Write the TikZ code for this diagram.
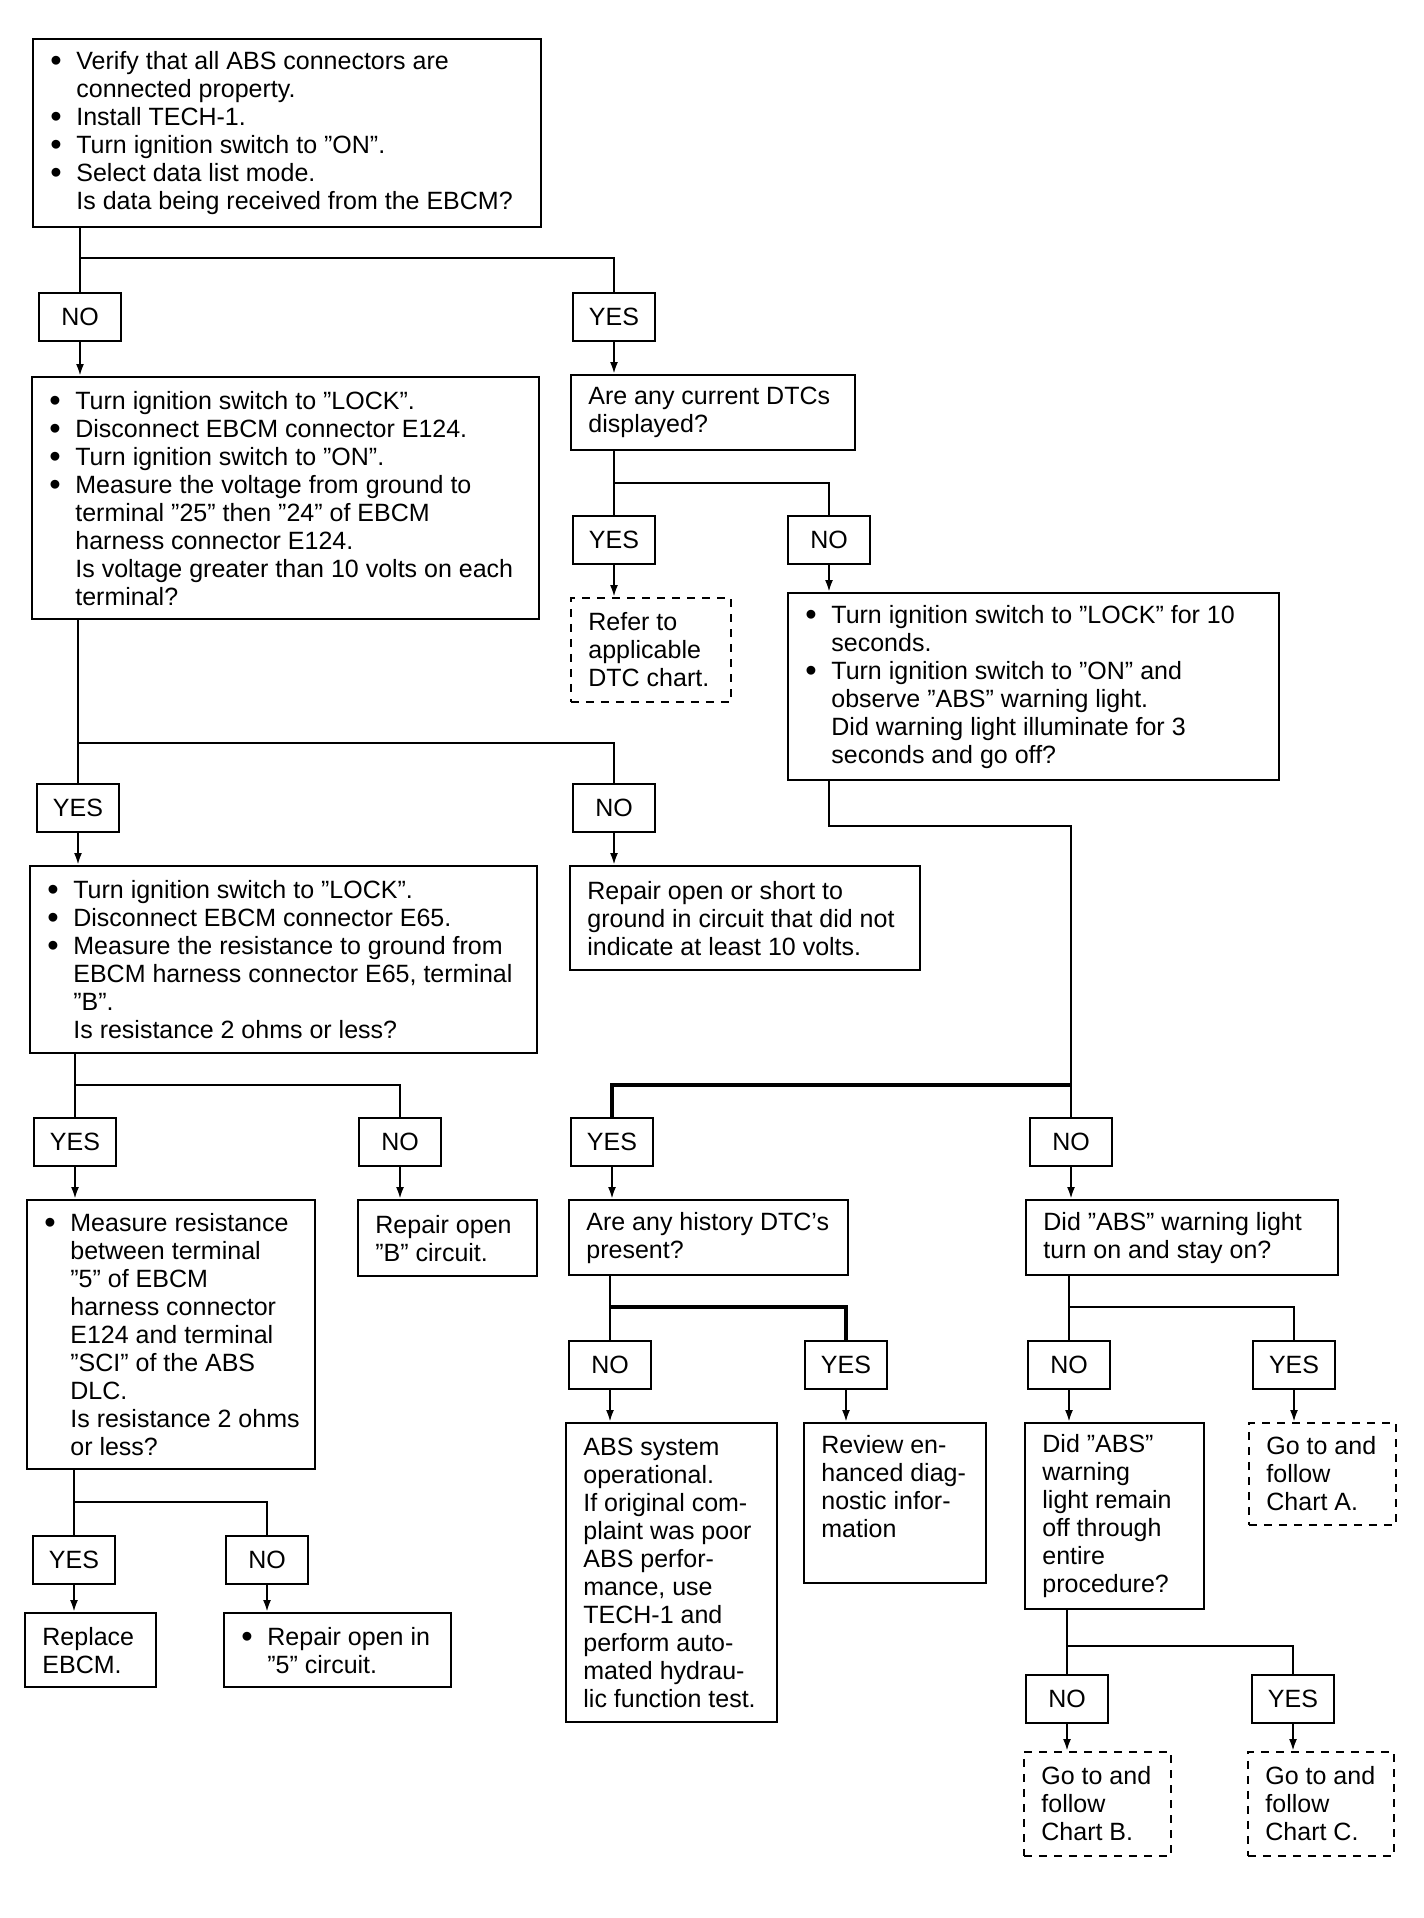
\documentclass[tikz,border=0pt]{standalone}
\usepackage{fontspec}
\usepackage{graphicx}
\setmainfont{Liberation Sans}
\usetikzlibrary{arrows.meta}
\newcommand{\bul}{\makebox[13pt][l]{\smash{\raisebox{-1.1pt}{\scalebox{1.3}{\textbullet}}}}}
\newcommand{\ind}{\hspace*{13pt}}
% [style] name x y W H text
\newcommand{\mybox}[7][box]{%
  \node[#1, minimum width=#5pt, minimum height=#6pt] (#2) at (#3,#4) {};
  \node[txt] (#2t) at ([xshift=9pt]#2.west) {#7};}
\begin{document}
\begin{tikzpicture}[x=0.5pt,y=-0.5pt,
  every node/.style={font=\fontsize{12.5}{14}\selectfont},
  box/.style={draw, line width=1.1pt, anchor=north west, inner sep=0pt},
  dbox/.style={box, line width=0.9pt, dash pattern=on 4pt off 3.5pt},
  txt/.style={anchor=west, align=left, inner sep=0pt},
  lab/.style={draw, line width=1.1pt, minimum width=41pt, minimum height=24pt, inner sep=0pt},
  conn/.style={line width=1.1pt},
  arr/.style={line width=1.1pt, -{Latex[length=6pt,width=4pt]}}
]
\fill[white] (0,0) rectangle (1424,1918);
\useasboundingbox (0,0) rectangle (1424,1918);

% ---- nodes ----
\mybox{b1}{32}{38}{254}{94}{\bul Verify that all ABS connectors are\\ \ind connected property.\\ \bul Install TECH-1.\\ \bul Turn ignition switch to "ON".\\ \bul Select data list mode.\\ \ind Is data being received from the EBCM?}
\node[lab] (no1) at (80,317) {NO};
\node[lab] (yes1) at (614,317) {YES};
\mybox{b2}{31}{376}{253.5}{121}{\bul Turn ignition switch to "LOCK".\\ \bul Disconnect EBCM connector E124.\\ \bul Turn ignition switch to "ON".\\ \bul Measure the voltage from ground to\\ \ind terminal "25" then "24" of EBCM\\ \ind harness connector E124.\\ \ind Is voltage greater than 10 volts on each\\ \ind terminal?}
\mybox{dtc}{570}{374}{142}{37.5}{Are any current DTCs\\ displayed?}
\node[lab] (yes2) at (614,540) {YES};
\node[lab] (no2) at (829,540) {NO};
\mybox[dbox]{refer}{570}{597}{80}{52}{Refer to\\ applicable\\ DTC chart.}
\mybox{lock10}{787}{592}{245.5}{93.5}{\bul Turn ignition switch to "LOCK" for 10\\ \ind seconds.\\ \bul Turn ignition switch to "ON" and\\ \ind observe "ABS" warning light.\\ \ind Did warning light illuminate for 3\\ \ind seconds and go off?}
\node[lab] (yes3) at (78,808) {YES};
\node[lab] (no3) at (614,808) {NO};
\mybox{b3}{29}{865}{253.5}{93.5}{\bul Turn ignition switch to "LOCK".\\ \bul Disconnect EBCM connector E65.\\ \bul Measure the resistance to ground from\\ \ind EBCM harness connector E65, terminal\\ \ind "B".\\ \ind Is resistance 2 ohms or less?}
\mybox{rep1}{569}{865}{175}{52}{Repair open or short to\\ ground in circuit that did not\\ indicate at least 10 volts.}
\node[lab] (yes4) at (75,1142) {YES};
\node[lab] (no4) at (400,1142) {NO};
\node[lab] (yes5) at (612,1142) {YES};
\node[lab] (no5) at (1071,1142) {NO};
\mybox{meas}{26}{1199}{144}{134.5}{\bul Measure resistance\\ \ind between terminal\\ \ind "5" of EBCM\\ \ind harness connector\\ \ind E124 and terminal\\ \ind "SCI" of the ABS\\ \ind DLC.\\ \ind Is resistance 2 ohms\\ \ind or less?}
\mybox{repB}{357}{1199}{89.5}{38}{Repair open\\ "B" circuit.}
\mybox{hist}{568}{1199}{139.5}{37.5}{Are any history DTC’s\\ present?}
\mybox{didabs}{1025}{1199}{156}{37.5}{Did "ABS" warning light\\ turn on and stay on?}
\node[lab] (no6) at (610,1365) {NO};
\node[lab] (yes6) at (846,1365) {YES};
\node[lab] (no7) at (1069,1365) {NO};
\node[lab] (yes7) at (1294,1365) {YES};
\mybox{abssys}{565}{1422}{105.5}{149.5}{ABS system\\ operational.\\ If original com-\\ plaint was poor\\ ABS perfor-\\ mance, use\\ TECH-1 and\\ perform auto-\\ mated hydrau-\\ lic function test.}
\node[box, minimum width=91pt, minimum height=80pt] (review) at (803,1422) {};
\node[txt, anchor=north west] (reviewt) at ([xshift=9pt,yshift=-6.5pt]review.north west) {Review en-\\ hanced diag-\\ nostic infor-\\ mation};
\mybox{remain}{1024}{1422}{89.5}{93}{Did "ABS"\\ warning\\ light remain\\ off through\\ entire\\ procedure?}
\mybox[dbox]{chA}{1248}{1422}{73.5}{51}{Go to and\\ follow\\ Chart A.}
\node[lab] (yes8) at (74,1560) {YES};
\node[lab] (no8) at (267,1560) {NO};
\node[lab] (no9) at (1067,1699) {NO};
\node[lab] (yes9) at (1293,1699) {YES};
\mybox{repl}{24}{1612}{65.5}{37}{Replace\\ EBCM.}
\mybox{rep5}{223}{1612}{113.5}{37}{\bul Repair open in\\ \ind "5" circuit.}
\mybox[dbox]{chB}{1023}{1751}{73.5}{52}{Go to and\\ follow\\ Chart B.}
\mybox[dbox]{chC}{1247}{1751}{73}{52}{Go to and\\ follow\\ Chart C.}

% ---- connectors ----
\coordinate (j1) at (80,258);
\draw[conn] (b1.south -| j1) -- (no1.north);
\draw[conn] (j1) -| (yes1.north);
\draw[arr] (no1.south) -- (no1.south |- b2.north);
\draw[arr] (yes1.south) -- (yes1.south |- dtc.north);

\coordinate (j2) at (614,483);
\draw[conn] (dtc.south -| j2) -- (yes2.north);
\draw[conn] (j2) -| (no2.north);
\draw[arr] (yes2.south) -- (yes2.south |- refer.north);
\draw[arr] (no2.south) -- (no2.south |- lock10.north);

\coordinate (j3) at (78,743);
\draw[conn] (b2.south -| j3) -- (yes3.north);
\draw[conn] (j3) -| (no3.north);
\draw[arr] (yes3.south) -- (yes3.south |- b3.north);
\draw[arr] (no3.south) -- (no3.south |- rep1.north);

\coordinate (k1) at (829,826);
\coordinate (k2) at (1071,1085);
\draw[conn] (lock10.south -| k1) -- (k1) -| (k2) -- (no5.north);
\draw[conn, line width=1.6pt] (k2) -| (yes5.north);
\draw[arr] (yes5.south) -- (yes5.south |- hist.north);
\draw[arr] (no5.south) -- (no5.south |- didabs.north);

\coordinate (j4) at (75,1085);
\draw[conn] (b3.south -| j4) -- (yes4.north);
\draw[conn] (j4) -| (no4.north);
\draw[arr] (yes4.south) -- (yes4.south |- meas.north);
\draw[arr] (no4.south) -- (no4.south |- repB.north);

\coordinate (j6) at (610,1307);
\draw[conn] (hist.south -| j6) -- (no6.north);
\draw[conn, line width=1.6pt] (j6) -| (yes6.north);
\draw[arr] (no6.south) -- (no6.south |- abssys.north);
\draw[arr] (yes6.south) -- (yes6.south |- review.north);

\coordinate (j7) at (1069,1307);
\draw[conn] (didabs.south -| j7) -- (no7.north);
\draw[conn] (j7) -| (yes7.north);
\draw[arr] (no7.south) -- (no7.south |- remain.north);
\draw[arr] (yes7.south) -- (yes7.south |- chA.north);

\coordinate (j8) at (74,1502);
\draw[conn] (meas.south -| j8) -- (yes8.north);
\draw[conn] (j8) -| (no8.north);
\draw[arr] (yes8.south) -- (yes8.south |- repl.north);
\draw[arr] (no8.south) -- (no8.south |- rep5.north);

\coordinate (j9) at (1067,1646);
\draw[conn] (remain.south -| j9) -- (no9.north);
\draw[conn] (j9) -| (yes9.north);
\draw[arr] (no9.south) -- (no9.south |- chB.north);
\draw[arr] (yes9.south) -- (yes9.south |- chC.north);
\end{tikzpicture}
\end{document}
